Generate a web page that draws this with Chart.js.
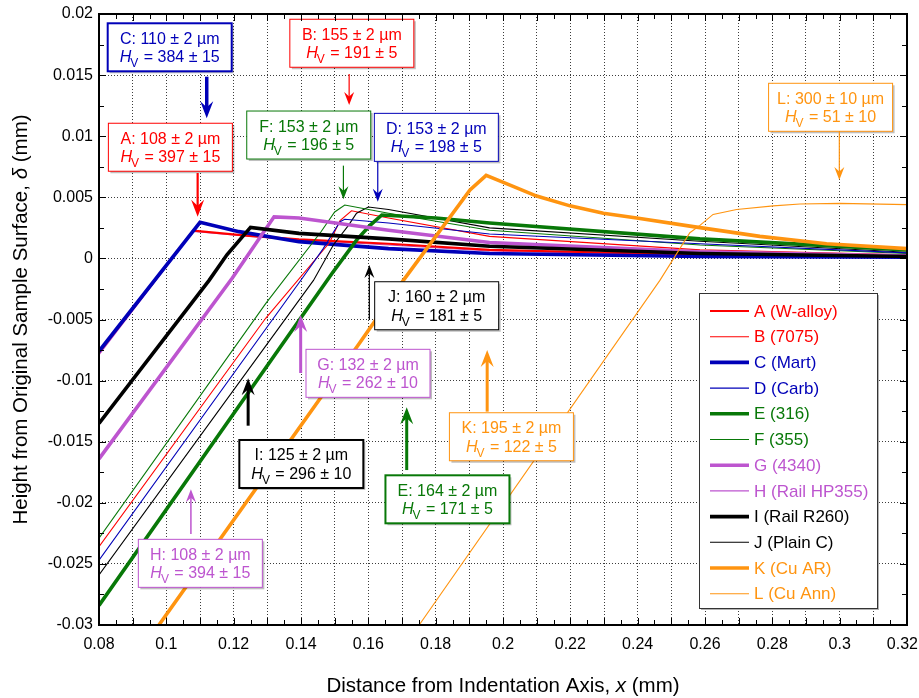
<!DOCTYPE html>
<html>
<head>
<meta charset="utf-8">
<script src="https://cdn.jsdelivr.net/npm/chart.js@4.4.0/dist/chart.umd.min.js"></script>
<style>
  html, body { margin: 0; padding: 0; background: #fff; }
  canvas { display: block; }
</style>
</head>
<body>
<canvas id="profile" width="919" height="698" style="width:919px;height:698px"></canvas>
<script>
// surface profiles around the indent, [x (mm), delta (mm)]
const ptsA = [[0.08, -0.0077], [0.108, 0.00227], [0.1246, 0.00185], [0.1394, 0.00155], [0.166, 0.0012], [0.196, 0.0007], [0.2585, 0.0003], [0.32, 0.0002]];
const ptsB = [[0.08, -0.0236], [0.1295, -0.0049], [0.1485, 0.0013], [0.1516, 0.0031], [0.155, 0.0039], [0.166, 0.0033], [0.196, 0.0018], [0.2585, 0.0007], [0.32, 0.0003]];
const ptsC = [[0.08, -0.0076], [0.110, 0.00295], [0.1216, 0.00219], [0.1394, 0.00137], [0.166, 0.0008], [0.196, 0.0004], [0.2585, 0.00015], [0.32, 0.0001]];
const ptsD = [[0.08, -0.0247], [0.1407, -0.0015], [0.1466, 0.0008], [0.1516, 0.0030], [0.153, 0.0032], [0.166, 0.0029], [0.196, 0.0020], [0.2585, 0.0012], [0.32, 0.00045]];
const ptsE = [[0.08, -0.0284], [0.1493, -0.0012], [0.1565, 0.0015], [0.1605, 0.0027], [0.164, 0.00355], [0.18, 0.0033], [0.196, 0.0029], [0.2585, 0.0016], [0.32, 0.0007]];
const ptsF = [[0.08, -0.0229], [0.1295, -0.0037], [0.146, 0.0022], [0.150, 0.0038], [0.153, 0.00437], [0.166, 0.0037], [0.196, 0.0023], [0.2585, 0.0011], [0.32, 0.0004]];
const ptsG = [[0.08, -0.0164], [0.1196, -0.0016], [0.132, 0.0034], [0.1394, 0.0033], [0.166, 0.0023], [0.196, 0.0013], [0.2585, 0.00055], [0.32, 0.0002]];
const ptsH = [[0.08, -0.0079], [0.108, 0.0022], [0.125, 0.0018], [0.14, 0.0015], [0.166, 0.0011], [0.196, 0.0006], [0.2585, 0.00025], [0.32, 0.00015]];
const ptsI = [[0.08, -0.0135], [0.1127, -0.0018], [0.118, 0.0003], [0.125, 0.00254], [0.1394, 0.00205], [0.166, 0.0016], [0.196, 0.0010], [0.2585, 0.0004], [0.32, 0.00015]];
const ptsJ = [[0.08, -0.0259], [0.1437, -0.0018], [0.1496, 0.0011], [0.1541, 0.0027], [0.1565, 0.0037], [0.160, 0.0042], [0.166, 0.0040], [0.196, 0.0025], [0.2585, 0.0014], [0.32, 0.0005]];
const ptsK = [[0.0978, -0.030], [0.1572, -0.0070], [0.1704, -0.0018], [0.1902, 0.0056], [0.195, 0.0068], [0.2021, 0.0060], [0.21, 0.0051], [0.2199, 0.0043], [0.2298, 0.0037], [0.2397, 0.0033], [0.2565, 0.0026], [0.2763, 0.0018], [0.2961, 0.0012], [0.32, 0.0008]];
const ptsL = [[0.1751, -0.030], [0.2466, -0.0018], [0.2555, 0.0021], [0.2585, 0.0027], [0.2624, 0.0036], [0.2694, 0.0040], [0.2803, 0.0043], [0.2882, 0.00445], [0.300, 0.0045], [0.32, 0.0044]];

const seriesNames = ['A (W-alloy)', 'B (7075)', 'C (Mart)', 'D (Carb)', 'E (316)', 'F (355)',
  'G (4340)', 'H (Rail HP355)', 'I (Rail R260)', 'J (Plain C)', 'K (Cu AR)', 'L (Cu Ann)'];
const seriesPts = [ptsA, ptsB, ptsC, ptsD, ptsE, ptsF, ptsG, ptsH, ptsI, ptsJ, ptsK, ptsL];

// ridge position (um) and Vickers hardness for each material
const ridgeUm = [108, 155, 110, 153, 164, 153, 132, 108, 125, 160, 195, 300];
const ridgeErr = [2, 2, 2, 2, 2, 2, 2, 2, 2, 2, 2, 10];
const hardness = [397, 191, 384, 198, 171, 196, 262, 394, 296, 181, 122, 51];
const hardnessErr = [15, 5, 15, 5, 5, 5, 10, 15, 10, 5, 5, 10];

const RED = '#ff0000', BLUE = '#0000b8', GREEN = '#087808', PURPLE = '#bd55cf', BLACK = '#000000', ORANGE = '#ff9410';
const colors = [RED, RED, BLUE, BLUE, GREEN, GREEN, PURPLE, PURPLE, BLACK, BLACK, ORANGE, ORANGE];
const widths = [2.2, 1.1, 3.6, 1.1, 3.6, 1.1, 3.6, 1.1, 3.6, 1.1, 3.6, 1.1];
const drawOrder = [8, 6, 7, 5, 4, 5, 3, 9, 2, 5, 0, 1];

const FONT = '"Liberation Sans", Arial, sans-serif';

// callout boxes: series index, box centre x / top y, arrow x and y from -> to (data units)
const callouts = [
  { s: 2, bx: 0.1010, by: 0.01924, ax: 0.1120, ay0: 0.01487, ay1: 0.01146, lw: 3.5, frame: 2 },
  { s: 0, bx: 0.1012, by: 0.01106, ax: 0.1093, ay0: 0.00699, ay1: 0.00341, lw: 2.2, frame: 1 },
  { s: 1, bx: 0.1551, by: 0.01957, ax: 0.1543, ay0: 0.01509, ay1: 0.01255, lw: 1.2, frame: 1 },
  { s: 5, bx: 0.1423, by: 0.01206, ax: 0.1526, ay0: 0.00759, ay1: 0.00484, lw: 1.2, frame: 1 },
  { s: 3, bx: 0.1802, by: 0.01187, ax: 0.1628, ay0: 0.00791, ay1: 0.00464, lw: 1.2, frame: 1 },
  { s: 11, bx: 0.2973, by: 0.01433, ax: 0.2999, ay0: 0.01037, ay1: 0.00642, lw: 1.2, frame: 1 },
  { s: 9, bx: 0.1803, by: -0.00191, ax: 0.1603, ay0: -0.00504, ay1: -0.00054, lw: 1.2, frame: 1 },
  { s: 6, bx: 0.1599, by: -0.00744, ax: 0.1399, ay0: -0.00938, ay1: -0.00463, lw: 3, frame: 1 },
  { s: 8, bx: 0.1401, by: -0.01486, ax: 0.1243, ay0: -0.01369, ay1: -0.00981, lw: 3, frame: 2 },
  { s: 7, bx: 0.1101, by: -0.02299, ax: 0.1073, ay0: -0.02255, ay1: -0.01890, lw: 1.5, frame: 1 },
  { s: 4, bx: 0.1835, by: -0.01775, ax: 0.1714, ay0: -0.01732, ay1: -0.01218, lw: 3, frame: 2 },
  { s: 10, bx: 0.2025, by: -0.01263, ax: 0.1953, ay0: -0.01254, ay1: -0.00750, lw: 3, frame: 1 }
];

function arrow(ctx, x, y0, y1, lw, color) {
  const dir = y1 > y0 ? 1 : -1;
  const len = lw > 2 ? 17 : 13;
  const half = lw > 2 ? 6.5 : 5;
  ctx.strokeStyle = color;
  ctx.fillStyle = color;
  ctx.lineWidth = lw;
  ctx.beginPath();
  ctx.moveTo(x, y0);
  ctx.lineTo(x, y1 - dir * len * 0.6);
  ctx.stroke();
  ctx.beginPath();
  ctx.moveTo(x, y1);
  ctx.lineTo(x - half, y1 - dir * len);
  ctx.lineTo(x, y1 - dir * len * 0.65);
  ctx.lineTo(x + half, y1 - dir * len);
  ctx.closePath();
  ctx.fill();
}

// "H_V = ..." with italic H and subscript V, centred on cx
function hvLine(ctx, cx, base, rest) {
  ctx.font = 'italic 16px ' + FONT;
  const wH = ctx.measureText('H').width;
  ctx.font = '12px ' + FONT;
  const wV = ctx.measureText('V').width;
  ctx.font = '16px ' + FONT;
  const wR = ctx.measureText(rest).width;
  let x = cx - (wH + wV + wR) / 2;
  ctx.textAlign = 'left';
  ctx.textBaseline = 'alphabetic';
  ctx.font = 'italic 16px ' + FONT;
  ctx.fillText('H', x, base);
  x += wH;
  ctx.font = '12px ' + FONT;
  ctx.fillText('V', x - 1, base + 5);
  x += wV;
  ctx.font = '16px ' + FONT;
  ctx.fillText(rest, x, base);
}

const calloutPlugin = {
  id: 'callouts',
  afterDatasetsDraw(chart) {
    const { ctx, scales: { x, y } } = chart;
    ctx.save();
    callouts.forEach(c => {
      const color = colors[c.s];
      const letter = seriesNames[c.s][0];
      const cx = x.getPixelForValue(c.bx);
      const top = y.getPixelForValue(c.by);
      const w = 124, h = 48;
      const left = cx - w / 2;
      ctx.fillStyle = 'rgba(0,0,0,0.25)';
      ctx.fillRect(left + 2, top + 2, w, h);
      ctx.fillStyle = '#fff';
      ctx.fillRect(left, top, w, h);
      ctx.strokeStyle = color;
      ctx.lineWidth = c.frame;
      ctx.strokeRect(left, top, w, h);
      ctx.fillStyle = color;
      ctx.font = '16px ' + FONT;
      ctx.textAlign = 'center';
      ctx.textBaseline = 'alphabetic';
      ctx.fillText(letter + ': ' + ridgeUm[c.s] + ' \u00b1 ' + ridgeErr[c.s] + ' \u00b5m', cx, top + 20.5);
      hvLine(ctx, cx, top + 39, ' = ' + hardness[c.s] + ' \u00b1 ' + hardnessErr[c.s]);
      arrow(ctx, x.getPixelForValue(c.ax), y.getPixelForValue(c.ay0), y.getPixelForValue(c.ay1), c.lw, color);
    });
    ctx.restore();
  }
};

const framePlugin = {
  id: 'frame',
  afterDatasetsDraw(chart) {
    const { ctx, chartArea: a, scales: { x, y } } = chart;
    ctx.save();
    ctx.strokeStyle = '#000';
    ctx.lineWidth = 1;
    ctx.beginPath();
    for (let k = 0; k < 48; k++) {
      const px = Math.round(x.getPixelForValue(0.08 + k * 0.005)) + 0.5;
      const len = k % 2 ? 5 : 7;
      ctx.moveTo(px, a.bottom); ctx.lineTo(px, a.bottom - len);
      ctx.moveTo(px, a.top); ctx.lineTo(px, a.top + len);
    }
    for (let k = 0; k < 20; k++) {
      const py = Math.round(y.getPixelForValue(-0.03 + k * 0.0025)) + 0.5;
      const len = k % 2 ? 5 : 7;
      ctx.moveTo(a.left, py); ctx.lineTo(a.left + len, py);
      ctx.moveTo(a.right, py); ctx.lineTo(a.right - len, py);
    }
    ctx.stroke();
    ctx.lineWidth = 2;
    ctx.strokeRect(a.left, a.top, a.width, a.height);

    // legend
    const lx = a.right - 208, ly = a.top + 279, lw = 178, lh = 315;
    ctx.fillStyle = 'rgba(0,0,0,0.3)';
    ctx.fillRect(lx + 2, ly + 2, lw, lh);
    ctx.fillStyle = '#fff';
    ctx.fillRect(lx, ly, lw, lh);
    ctx.strokeStyle = '#333';
    ctx.lineWidth = 1;
    ctx.strokeRect(lx + 0.5, ly + 0.5, lw, lh);
    ctx.font = '17px ' + FONT;
    ctx.textAlign = 'left';
    ctx.textBaseline = 'middle';
    chart.data.datasets.forEach((ds, i) => {
      const ry = ly + 18 + i * 25.7;
      ctx.strokeStyle = ds.borderColor;
      ctx.lineWidth = ds.borderWidth;
      ctx.beginPath();
      ctx.moveTo(lx + 11, ry); ctx.lineTo(lx + 50, ry);
      ctx.stroke();
      ctx.fillStyle = ds.borderColor;
      ctx.fillText(ds.label, lx + 55, ry + 1);
    });
    ctx.restore();
  }
};

const titlePlugin = {
  id: 'axisTitles',
  afterDraw(chart) {
    const { ctx, chartArea: a, scales: { x } } = chart;
    ctx.save();
    // x tick labels, kept inside the canvas at the far end
    ctx.fillStyle = '#000';
    ctx.font = '16px ' + FONT;
    ctx.textAlign = 'center';
    ctx.textBaseline = 'top';
    x.ticks.forEach((t, i) => {
      const k = Math.round(t.value * 100);
      if (k % 2) return;
      const text = String(k / 100);
      const half = ctx.measureText(text).width / 2;
      const px = Math.min(x.getPixelForTick(i), chart.width - half - 1);
      ctx.fillText(text, px, a.bottom + 12);
    });

    const parts = (segs, cx, cy) => {
      let total = 0;
      segs.forEach(s => { ctx.font = s[1] + '20.5px ' + FONT; total += ctx.measureText(s[0]).width; });
      let px = cx - total / 2;
      segs.forEach(s => {
        ctx.font = s[1] + '20.5px ' + FONT;
        ctx.fillText(s[0], px, cy);
        px += ctx.measureText(s[0]).width;
      });
    };
    ctx.textAlign = 'left';
    ctx.textBaseline = 'middle';
    parts([['Distance from Indentation Axis, ', ''], ['x', 'italic '], [' (mm)', '']], (a.left + a.right) / 2, 686);
    ctx.translate(21, (a.top + a.bottom) / 2);
    ctx.rotate(-Math.PI / 2);
    parts([['Height from Original Sample Surface, ', ''], ['\u03b4', 'italic '], [' (mm)', '']], 0, 0);
    ctx.restore();
  }
};

const datasets = seriesPts.map((pts, i) => ({
  label: seriesNames[i],
  data: pts.map(p => ({ x: p[0], y: p[1] })),
  borderColor: colors[i],
  borderWidth: widths[i],
  pointRadius: 0,
  fill: false,
  tension: 0,
  order: drawOrder[i]
}));

const gridLook = { color: '#3c3c3c', lineWidth: 1, drawTicks: false };

new Chart(document.getElementById('profile').getContext('2d'), {
  type: 'line',
  data: { datasets },
  options: {
    responsive: false,
    animation: false,
    devicePixelRatio: 1,
    layout: { padding: { top: 14, right: 12, left: 0, bottom: 0 } },
    plugins: { legend: { display: false }, tooltip: { enabled: false } },
    scales: {
      x: {
        type: 'linear', min: 0.08, max: 0.32,
        afterFit: s => { s.height = 73; s.paddingLeft = 0; s.paddingRight = 0; },
        grid: gridLook,
        border: { display: false, dash: [1, 2] },
        ticks: { stepSize: 0.01, autoSkip: false, maxRotation: 0, display: false }
      },
      y: {
        type: 'linear', min: -0.03, max: 0.02,
        afterFit: s => { s.width = 99; s.paddingTop = 0; s.paddingBottom = 0; },
        grid: gridLook,
        border: { display: false, dash: [1, 2] },
        ticks: {
          stepSize: 0.005, autoSkip: false, padding: 6,
          color: '#000', font: { family: FONT, size: 16 },
          callback: v => String(Math.round(v * 1000) / 1000)
        }
      }
    }
  },
  plugins: [calloutPlugin, framePlugin, titlePlugin]
});
</script>
</body>
</html>
